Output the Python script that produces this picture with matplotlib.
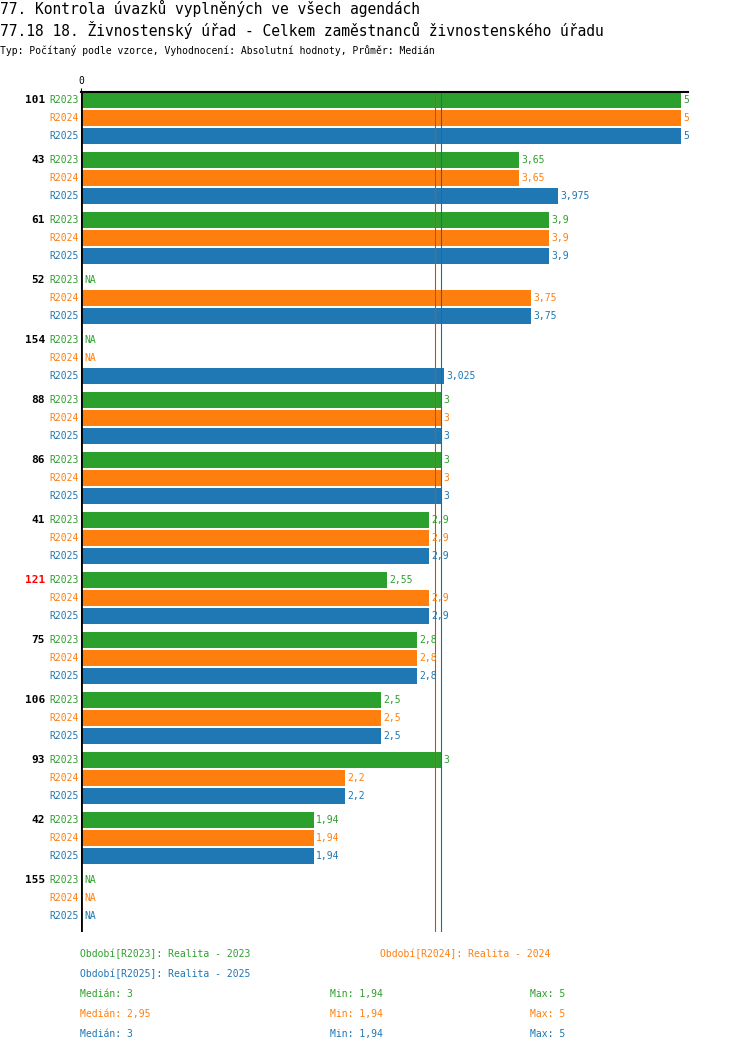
import numpy as np
import matplotlib.pyplot as plt

groups = ["101", "43", "61", "52", "154", "88", "86", "41", "121", "75", "106", "93", "42", "155"]
periods = ["R2023", "R2024", "R2025"]
r2023 = [5, 3.65, 3.9, None, None, 3, 3, 2.9, 2.55, 2.8, 2.5, 3, 1.94, None]
r2024 = [5, 3.65, 3.9, 3.75, None, 3, 3, 2.9, 2.9, 2.8, 2.5, 2.2, 1.94, None]
r2025 = [5, 3.975, 3.9, 3.75, 3.025, 3, 3, 2.9, 2.9, 2.8, 2.5, 2.2, 1.94, None]
medians = [3, 2.95, 3]
mins = [1.94, 1.94, 1.94]
maxs = [5, 5, 5]
colors = ["#2ca02c", "#ff7f0e", "#1f77b4"]

W, H = 750, 1052
plt.rcParams["font.family"] = ["DejaVu Sans Mono"]
fig = plt.figure(figsize=(7.5, 10.52), dpi=100)

def fx(px): return px / W
def fy(py): return 1 - py / H

fig.text(0, fy(8), "77. Kontrola úvazků vyplněných ve všech agendách", fontsize=10.5, va="center")
fig.text(0, fy(30), "77.18 18. Živnostenský úřad - Celkem zaměstnanců živnostenského úřadu", fontsize=10.5, va="center")
fig.text(0, fy(51), "Typ: Počítaný podle vzorce, Vyhodnocení: Absolutní hodnoty, Průměr: Medián", fontsize=7, va="center")

x0, x1, top, bot = 81, 688, 92, 932
ax = fig.add_axes([fx(x0), fy(bot), (x1 - x0) / W, (bot - top) / H])
ax.set_xlim(0, (x1 - x0) / 120)
ax.set_ylim(bot, top)
for s in ["right", "bottom", "left"]:
    ax.spines[s].set_visible(False)
ax.axvline(0, color="black", lw=2)
ax.spines["top"].set_linewidth(1.5)
ax.set_xticks([0])
ax.xaxis.tick_top()
ax.tick_params(axis="x", length=3, labelsize=7, pad=1)
ax.set_yticks([])

series = [r2023, r2024, r2025]
for i, g in enumerate(groups):
    yg = 100 + 60 * i
    ax.text(-0.3, yg, g, ha="right", va="center", fontsize=8, fontweight="bold",
            color="red" if g == "121" else "black")
    for j in range(3):
        y = yg + 18 * j
        v = series[j][i]
        c = colors[j]
        ax.text(-0.02, y, periods[j], ha="right", va="center", fontsize=7, color=c)
        if v is None:
            ax.text(0.03, y, "NA", ha="left", va="center", fontsize=7, color=c)
        else:
            ax.barh(y, v, height=16, color=c)
            ax.text(v + 0.02, y, f"{v:g}".replace(".", ","), ha="left", va="center", fontsize=7, color=c)

ax.axvline(medians[1], color=colors[1], lw=0.8)
ax.axvline(medians[2], color=colors[2], lw=0.8)
ax.axvline(medians[1], color="#555555", lw=0.5)
ax.axvline(medians[2], color="#555555", lw=0.5)

fs = 7
fig.text(fx(80), fy(954), "Období[R2023]: Realita - 2023", color=colors[0], fontsize=fs, va="center")
fig.text(fx(380), fy(954), "Období[R2024]: Realita - 2024", color=colors[1], fontsize=fs, va="center")
fig.text(fx(80), fy(974), "Období[R2025]: Realita - 2025", color=colors[2], fontsize=fs, va="center")
for j in range(3):
    y = fy(994 + 20 * j)
    fig.text(fx(80), y, f"Medián: {medians[j]:g}".replace(".", ","), color=colors[j], fontsize=fs, va="center")
    fig.text(fx(330), y, f"Min: {mins[j]:g}".replace(".", ","), color=colors[j], fontsize=fs, va="center")
    fig.text(fx(530), y, f"Max: {maxs[j]:g}".replace(".", ","), color=colors[j], fontsize=fs, va="center")

fig.savefig("out.png", dpi=100)
